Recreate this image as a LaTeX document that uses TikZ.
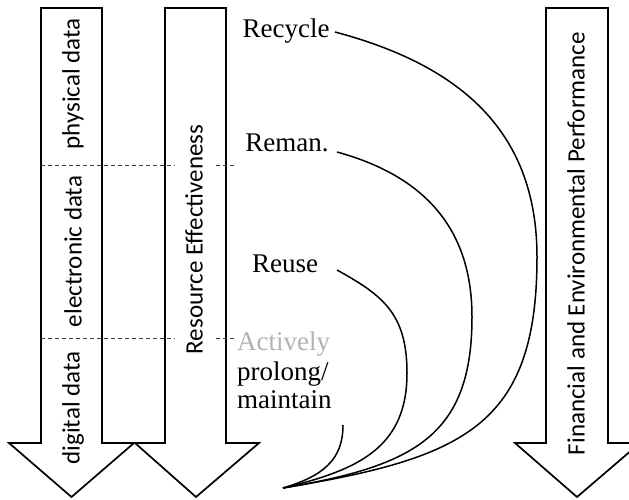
\documentclass[tikz,border=0pt]{standalone}
\usepackage{fontspec}
\setmainfont{Liberation Serif}
\newfontfamily\labelsans{Carlito}
\begin{document}
\begin{tikzpicture}[x=1pt,y=1pt,
  bigarrow/.style={draw=black,line width=1.7pt,fill=white,line join=miter},
  divider/.style={draw=black!75,line width=0.7pt,dash pattern=on 4pt off 3pt},
  sidelabel/.style={rotate=90,font=\labelsans\fontsize{25}{28}\selectfont,inner sep=2pt},
  looplabel/.style={font=\fontsize{27}{31}\selectfont,inner sep=0pt,anchor=base},
  loop/.style={draw=black,line width=1.5pt}]
\useasboundingbox (0,0) rectangle (629,499);

% three downward block arrows
\draw[bigarrow] (41,491) -- (102,491) -- (102,56) -- (134,56) -- (71.5,2)
  -- (9,56) -- (41,56) -- cycle;
\draw[bigarrow] (165,491) -- (226,491) -- (226,56) -- (259,56) -- (196,2)
  -- (135,56) -- (165,56) -- cycle;
\draw[bigarrow] (546,491) -- (608,491) -- (608,56) -- (640,56) -- (577,2)
  -- (515,56) -- (546,56) -- cycle;

% dashed boundaries between the data layers
\coordinate (d1a) at (41,334);  \coordinate (d1b) at (236,334);
\coordinate (d2a) at (41,161);  \coordinate (d2b) at (234,161);
\draw[divider] (d1a) -- (d1b);
\draw[divider] (d2a) -- (d2b);

% labels inside the arrows
\node[sidelabel] (phys) at (73,415) {physical data};
\node[sidelabel] (elec) at (73,247.5) {electronic data};
\node[sidelabel] (digi) at (73,91) {digital data};
\node[sidelabel,fill=white,inner xsep=4pt,inner ysep=10pt] (res) at (194,259.5) {Resource Effectiveness};
\node[sidelabel] (fin) at (576,255.5) {Financial and Environmental Performance};

% strategy labels
\node[looplabel] (recycle) at (286,461) {Recycle};
\node[looplabel] (reman) at (287,347) {Reman.};
\node[looplabel] (reuse) at (285,227) {Reuse};
\node[looplabel,anchor=base west,text=black!30] (act) at (237,149) {Actively};
\node[looplabel,anchor=base west] (prol) at (237,119) {prolong/};
\node[looplabel,anchor=base west] (maint) at (237,91) {maintain};

% loops converging at the bottom
\coordinate (hub) at (283,11);
\coordinate (s1) at (335,467); \coordinate (r1) at (537,242);
\coordinate (s2) at (337,347); \coordinate (r2) at (472,182);
\coordinate (s3) at (337,229); \coordinate (r3) at (407,126);
\coordinate (s4) at (343,74);
\draw[loop] (s1) .. controls +(120,-32) and +(0,130) .. (r1)
  .. controls +(0,-170) and +(180,30) .. (hub);
\draw[loop] (s2) .. controls +(80,-22) and +(0,95) .. (r2)
  .. controls +(0,-120) and +(130,22) .. (hub);
\draw[loop] (s3) .. controls +(45,-25) and +(0,60) .. (r3)
  .. controls +(0,-75) and +(75,18) .. (hub);
\draw[loop] (s4) .. controls +(0,-35) and +(40,12) .. (hub);
\end{tikzpicture}
\end{document}
